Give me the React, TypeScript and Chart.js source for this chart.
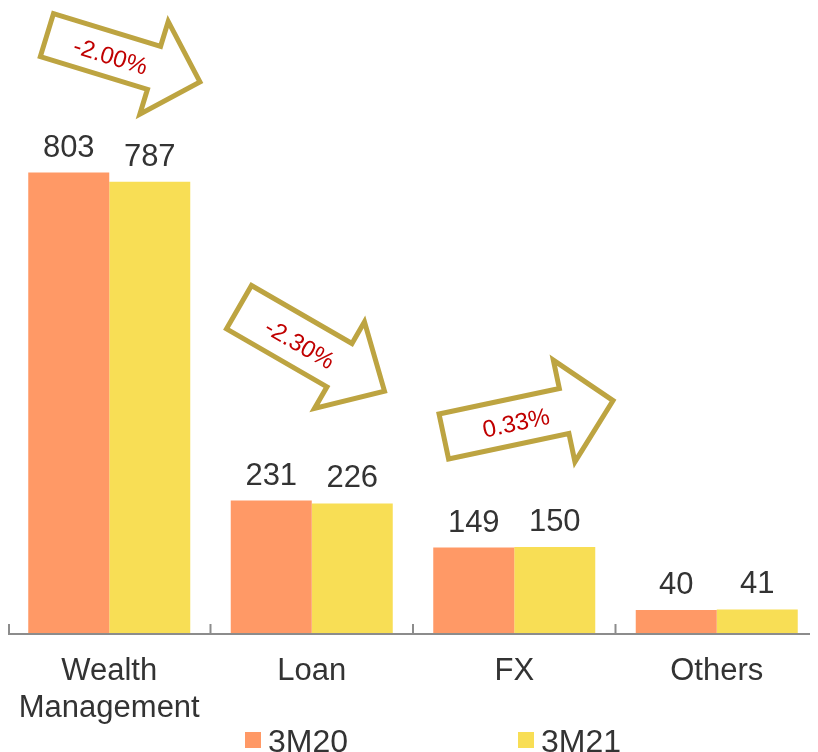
import React, { useEffect, useRef } from 'react';
import { Chart, registerables } from 'chart.js';

Chart.register(...registerables);

// ---- data ----
const categories: (string | string[])[] = [['Wealth', 'Management'], 'Loan', 'FX', 'Others'];
const seriesLabels = ['3M20', '3M21'];
const values3M20 = [803, 231, 149, 40];
const values3M21 = [787, 226, 150, 41];
const changeLabels = ['-2.00%', '-2.30%', '0.33%'];
// arrow anchors: category position (index) and value level
const arrowIndex = [0.07, 1.0, 2.07];
const arrowLevel = [1002, 495, 374];
const yMax = 1090;

// ---- styles ----
const FONT = "'Liberation Sans', Arial, Helvetica, sans-serif";
const COLORS = ['#FF9966', '#F8DE55'];
const TEXT = '#333333';
const ARROW_COLOR = '#BDA441';
const ARROW_TEXT = '#C00000';
const arrowAngle = [17, 30, -12];
const arrowDims = [
  { L: 160, sw: 45, hw: 97, hl: 48 },
  { L: 168, sw: 50, hw: 100, hl: 52 },
  { L: 173, sw: 46, hw: 104, hl: 50 },
];
const legendBoxX = [237, 510];

const overlayPlugin = {
  id: 'overlay',
  afterDatasetsDraw(chart: any) {
    const ctx: CanvasRenderingContext2D = chart.ctx;
    const xs = chart.scales.x;
    const ys = chart.scales.y;
    const area = chart.chartArea;
    ctx.save();

    // axis line and tick marks (pointing up)
    ctx.strokeStyle = '#8C8C8C';
    ctx.lineWidth = 2;
    ctx.beginPath();
    ctx.moveTo(0, area.bottom + 1);
    ctx.lineTo(chart.width, area.bottom + 1);
    ctx.stroke();
    const n = categories.length;
    const cw = (xs.right - xs.left) / n;
    for (let i = 0; i < n; i++) {
      const bx = Math.max(xs.getPixelForValue(i) - cw / 2, 1);
      ctx.beginPath();
      ctx.moveTo(bx, area.bottom + 1);
      ctx.lineTo(bx, area.bottom - 9);
      ctx.stroke();
    }

    // value labels
    ctx.fillStyle = TEXT;
    ctx.font = `31px ${FONT}`;
    ctx.textAlign = 'center';
    ctx.textBaseline = 'alphabetic';
    chart.data.datasets.forEach((ds: any, di: number) => {
      const meta = chart.getDatasetMeta(di);
      meta.data.forEach((el: any, i: number) => {
        ctx.fillText(String(ds.data[i]), el.x, el.y - 16);
      });
    });

    // arrows
    changeLabels.forEach((label, k) => {
      const cx = xs.getPixelForValue(arrowIndex[k]);
      const cy = ys.getPixelForValue(arrowLevel[k]);
      const { L, sw, hw, hl } = arrowDims[k];
      ctx.save();
      ctx.translate(cx, cy);
      ctx.rotate((arrowAngle[k] * Math.PI) / 180);
      ctx.beginPath();
      ctx.moveTo(-L / 2, -sw / 2);
      ctx.lineTo(L / 2 - hl, -sw / 2);
      ctx.lineTo(L / 2 - hl, -hw / 2);
      ctx.lineTo(L / 2, 0);
      ctx.lineTo(L / 2 - hl, hw / 2);
      ctx.lineTo(L / 2 - hl, sw / 2);
      ctx.lineTo(-L / 2, sw / 2);
      ctx.closePath();
      ctx.fillStyle = '#FFFFFF';
      ctx.fill();
      ctx.strokeStyle = ARROW_COLOR;
      ctx.lineWidth = 5;
      ctx.lineJoin = 'miter';
      ctx.miterLimit = 10;
      ctx.stroke();
      ctx.fillStyle = ARROW_TEXT;
      ctx.font = `24px ${FONT}`;
      ctx.textAlign = 'center';
      ctx.textBaseline = 'middle';
      ctx.fillText(label, -13, 3);
      ctx.restore();
    });

    // legend
    ctx.font = `32px ${FONT}`;
    ctx.textAlign = 'left';
    ctx.textBaseline = 'alphabetic';
    chart.data.datasets.forEach((ds: any, di: number) => {
      const bx = legendBoxX[di];
      ctx.fillStyle = ds.backgroundColor;
      ctx.fillRect(bx, 724, 16, 16);
      ctx.fillStyle = TEXT;
      ctx.fillText(ds.label, bx + 23, 744);
    });

    ctx.restore();
  },
};

export default function App() {
  const ref = useRef<HTMLCanvasElement | null>(null);

  useEffect(() => {
    document.documentElement.style.overflow = 'hidden';
    const canvas = ref.current;
    if (!canvas) return;
    const chart = new Chart(canvas, {
      type: 'bar',
      data: {
        labels: categories,
        datasets: [
          { label: seriesLabels[0], data: values3M20, backgroundColor: COLORS[0], borderWidth: 0 },
          { label: seriesLabels[1], data: values3M21, backgroundColor: COLORS[1], borderWidth: 0 },
        ],
      },
      options: {
        responsive: false,
        maintainAspectRatio: false,
        animation: false,
        devicePixelRatio: 1,
        layout: { padding: 0 },
        datasets: { bar: { categoryPercentage: 0.8, barPercentage: 1.0 } },
        plugins: {
          legend: { display: false },
          tooltip: { enabled: false },
        },
        scales: {
          x: {
            grid: { display: false, drawTicks: true, tickLength: 20 },
            border: { display: false },
            ticks: {
              color: TEXT,
              font: { family: FONT, size: 31, lineHeight: 1.19 },
              padding: 0,
              maxRotation: 0,
              autoSkip: false,
            },
            afterFit: (scale: any) => {
              scale.height = 119;
            },
          },
          y: {
            display: false,
            min: 0,
            max: yMax,
          },
        },
      },
      plugins: [overlayPlugin],
    });
    return () => chart.destroy();
  }, []);

  return (
    <div style={{ width: 810, height: 744 }}>
      <canvas ref={ref} width={810} height={744} style={{ display: 'block' }} />
    </div>
  );
}
